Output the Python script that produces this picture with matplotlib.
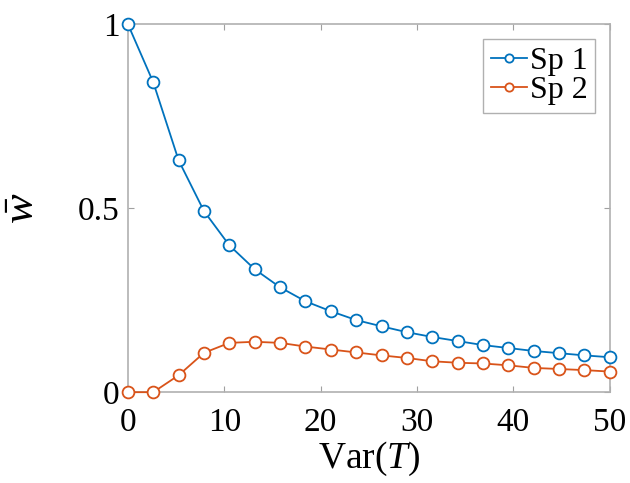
import numpy as np
import matplotlib
matplotlib.use('Agg')
import matplotlib.pyplot as plt

# data
var_t = np.linspace(0, 50, 20)
sp1 = [1.0, 0.842, 0.630, 0.492, 0.399, 0.334, 0.285, 0.247, 0.220, 0.196,
       0.179, 0.163, 0.150, 0.139, 0.128, 0.120, 0.112, 0.106, 0.100, 0.095]
sp2 = [0.0, 0.0, 0.046, 0.107, 0.134, 0.137, 0.134, 0.124, 0.116, 0.108,
       0.100, 0.093, 0.084, 0.080, 0.078, 0.073, 0.066, 0.063, 0.060, 0.056]
x_ticks = [0, 10, 20, 30, 40, 50]
y_ticks = [0, 0.5, 1]
y_tick_labels = ['0', '0.5', '1']

plt.rcParams['font.family'] = ['Liberation Serif', 'DejaVu Serif']
plt.rcParams['mathtext.fontset'] = 'custom'
plt.rcParams['mathtext.rm'] = 'Liberation Serif'
plt.rcParams['mathtext.it'] = 'Liberation Serif:italic'

fig = plt.figure(figsize=(6.3, 4.83), dpi=100)
ax = fig.add_axes([0.203, 0.188, 0.765, 0.762])

ax.plot(var_t, sp1, '-o', color='#0072BD', lw=1.3, ms=8.5, mfc='white',
        mew=1.3, label='Sp 1', clip_on=False, zorder=3)
ax.plot(var_t, sp2, '-o', color='#D95319', lw=1.3, ms=8.5, mfc='white',
        mew=1.3, label='Sp 2', clip_on=False, zorder=3)

ax.set_xlim(0, 50)
ax.set_ylim(0, 1)
ax.set_xticks(x_ticks)
ax.set_yticks(y_ticks)
ax.set_yticklabels(y_tick_labels)
ax.tick_params(direction='in', length=4, color='#a0a0a0', labelsize=24,
               top=True, right=True)
ax.tick_params(axis='x', pad=11)
ax.tick_params(axis='y', pad=6)
for s in ax.spines.values():
    s.set_color('#b0b0b0')
    s.set_linewidth(1.2)

ax.set_xlabel('Var($T$)', fontsize=27, labelpad=1)
ax.set_ylabel(r'$\bar{w}$', fontsize=32, labelpad=25)

leg = ax.legend(loc='upper right', fontsize=23, handlelength=1.1,
                handletextpad=0.1, borderpad=0.25, labelspacing=0.0,
                markerscale=0.7, fancybox=False, framealpha=1,
                borderaxespad=0.45)
leg.get_frame().set_edgecolor('#b0b0b0')
leg.get_frame().set_linewidth(1.0)

fig.savefig('out.png', dpi=100)
